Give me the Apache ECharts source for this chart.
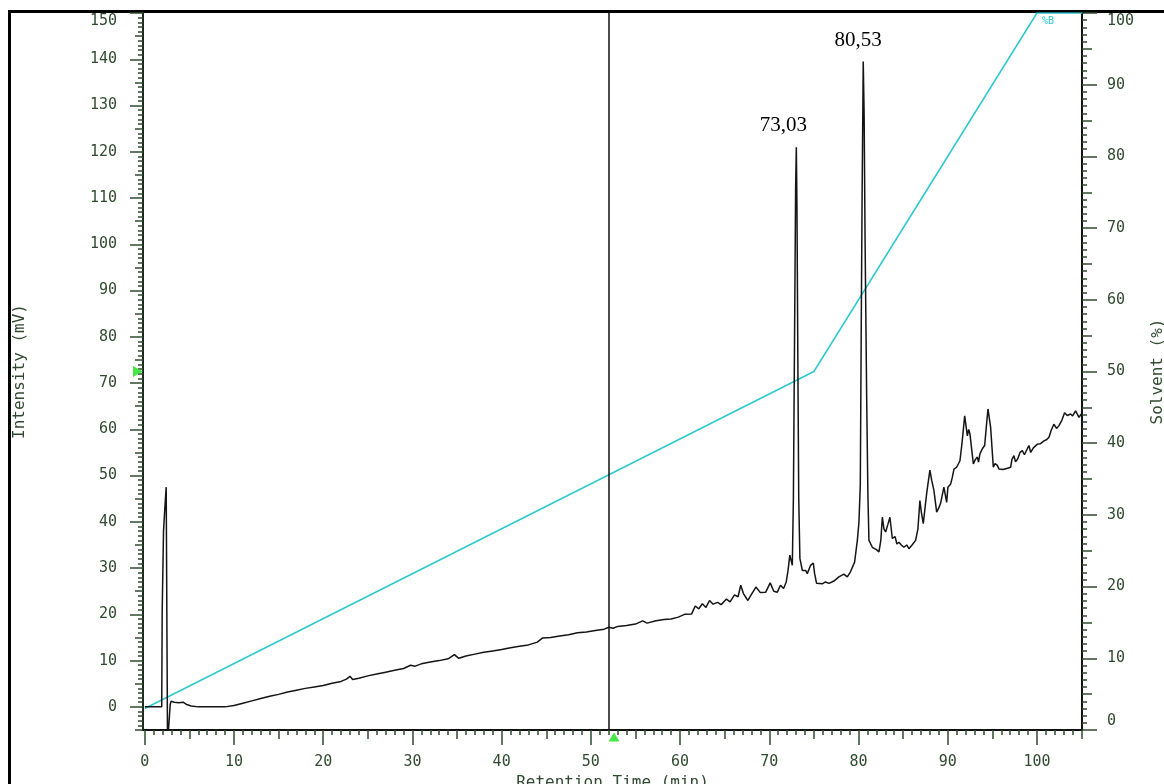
<!DOCTYPE html>
<html>
<head>
<meta charset="utf-8">
<script src="https://cdn.jsdelivr.net/npm/echarts@6/dist/echarts.min.js"></script>
<style>
  html, body { margin: 0; padding: 0; background: #fff; }
  #chart { width: 1164px; height: 784px; }
</style>
</head>
<body>
<div id="chart"></div>
<script>
// ---- Chromatogram trace: retention time (min) and detector signal (mV) ----
const traceTime = [
  0, 1.9, 1.95, 2.1, 2.25, 2.4, 2.5, 2.55, 2.75, 2.85, 2.95, 3.3, 3.8, 4.0, 4.3, 4.7, 5.2, 6, 9,
  10, 11, 12, 13, 14, 15, 16, 17, 18, 19, 20, 21, 22, 22.6, 23.0, 23.3, 24, 25, 26, 27, 28, 29,
  29.8, 30.3, 31, 32, 33, 34, 34.7, 35.2, 36, 37, 38, 39, 40, 41, 42, 43, 44, 44.6, 45.5, 46.5,
  47.5, 48.5, 49.5, 50.5, 51.5, 52, 52.5, 53, 54, 55, 55.8, 56.3, 57.3, 58.2, 59, 59.8, 60.5,
  61.3, 61.7, 62.1, 62.5, 62.9, 63.3, 63.7, 64.2, 64.6, 65.2, 65.6, 66.1, 66.5, 66.8, 67.1,
  67.6, 68.0, 68.5, 69.0, 69.6, 70.1, 70.5, 70.9, 71.25, 71.6, 71.9, 72.1, 72.3, 72.58, 72.7,
  72.85, 72.95, 73.03, 73.1, 73.2, 73.3, 73.43, 73.7, 74.07, 74.26, 74.63, 74.93, 75.08, 75.3,
  75.94, 76.3, 76.7, 77.24, 77.8, 78.36, 78.74, 79.1, 79.56, 79.87, 80.05, 80.2, 80.3, 80.4,
  80.53, 80.63, 80.74, 80.91, 81.05, 81.17, 81.55, 82.0, 82.29, 82.5, 82.67, 82.85, 83.04, 83.3,
  83.52, 83.79, 84.1, 84.3, 84.53, 84.8, 85.09, 85.4, 85.65, 86.0, 86.4, 86.66, 86.88, 87.05,
  87.26, 87.63, 88.0, 88.2, 88.45, 88.76, 89.0, 89.2, 89.57, 89.88, 90.02, 90.33, 90.5, 90.7,
  91.0, 91.37, 91.6, 91.9, 92.2, 92.35, 92.49, 92.87, 93.1, 93.32, 93.45, 93.61, 93.88, 94.14,
  94.3, 94.51, 94.81, 95.11, 95.3, 95.56, 95.75, 95.93, 96.2, 96.38, 96.7, 97.05, 97.2, 97.42,
  97.6, 97.84, 98.1, 98.36, 98.6, 98.92, 99.1, 99.3, 99.6, 100.05, 100.4, 100.79, 101.1,
  101.35, 101.6, 101.9, 102.2, 102.47, 102.8, 103.1, 103.4, 103.77, 104.0, 104.33, 104.71, 105.09
];
const traceSignal = [
  0, 0, 20.5, 38, 43, 47.5, 10, -8, -8, 0.5, 1.2, 1.0, 0.9, 0.7, 1.0, 0.5, 0.2, 0, 0,
  0.3, 0.8, 1.3, 1.8, 2.3, 2.7, 3.2, 3.6, 4.0, 4.3, 4.6, 5.1, 5.5, 6.0, 6.6, 5.9, 6.2, 6.7, 7.1, 7.5, 7.9, 8.3,
  9.0, 8.8, 9.3, 9.7, 10.0, 10.4, 11.3, 10.5, 11.0, 11.4, 11.8, 12.1, 12.4, 12.8, 13.1, 13.4, 14.0, 14.9, 15.0, 15.3,
  15.6, 16.0, 16.2, 16.5, 16.8, 17.2, 17.0, 17.4, 17.6, 17.9, 18.6, 18.1, 18.6, 18.9, 19.0, 19.4, 20.0,
  20.1, 21.8, 21.2, 22.3, 21.5, 23.0, 22.2, 22.6, 22.1, 23.3, 22.7, 24.2, 23.8, 26.3, 24.5,
  23.0, 24.3, 25.9, 24.7, 24.8, 26.8, 25.0, 24.8, 26.3, 25.6, 27.0, 29.5, 32.8, 30.6, 45,
  85, 112, 121, 108, 75, 45, 32.1, 29.5, 29.5, 28.8, 30.6, 31.1, 28.8, 26.7,
  26.6, 27.0, 26.7, 27.2, 28.1, 28.7, 28.1, 29.2, 31.3, 36.0, 40, 48, 80, 110,
  139.5, 128, 100, 67.7, 46, 36, 34.5, 34.0, 33.5, 36, 41, 38.5, 37.8, 39.5,
  41, 36.4, 36.8, 35.2, 35.6, 35.0, 34.5, 35.0, 34.2, 35.0, 36, 38.5, 44.6, 42,
  39.6, 46, 51.2, 49, 46.8, 42.1, 43.0, 44, 47.5, 44.2, 47.5, 48.2, 49.5, 51.4,
  51.8, 53.2, 57, 62.9, 58.6, 60, 59, 52.5, 53.5, 54, 52.9, 54.7, 55.8, 56.5,
  60, 64.4, 60.4, 51.8, 52.6, 52.2, 51.4, 51.8, 51.3, 51.1, 51.6, 51.8, 53.5, 54.3,
  53.0, 53.6, 55.0, 55.4, 54.5, 55.8, 56.5, 55, 56.0, 56.8, 56.9, 57.5, 57.8,
  58.3, 59.8, 61.1, 60.2, 60.8, 62.0, 63.6, 63.0, 63.3, 62.9, 64, 62.6, 63.6
];

// ---- Solvent gradient (%B) ----
const gradientTime = [0, 75, 100, 105.05];
const solventB = [3, 50, 100, 100];

// ---- Annotated peaks ----
const peakTimes = [73.03, 80.53];
const peakHeights = [121, 139.5];
const peakLabels = ['73,03', '80,53'];

// ---- Cursor and markers ----
const cursorTime = 52.0;
const markerTime = 52.6;
const markerSolvent = 50;

// ---- Axis ranges and tick labels ----
const timeRange = [-0.2, 105.05];
const intensityRange = [-5, 150];
const solventRange = [0, 100];
const timeTicks = [0, 10, 20, 30, 40, 50, 60, 70, 80, 90, 100];
const intensityTicks = [0, 10, 20, 30, 40, 50, 60, 70, 80, 90, 100, 110, 120, 130, 140, 150];
const solventTicks = [0, 10, 20, 30, 40, 50, 60, 70, 80, 90, 100];

// ---- Styling ----
const AXIS_GREEN = '#2f4a2f';
const MONO = '"DejaVu Sans Mono", "Liberation Mono", monospace';
const TRACE_BLACK = '#141414';
const GRADIENT_CYAN = '#2cc8d0';
const MARKER_GREEN = '#18e018';

// tick positions between two values at a fixed step (axis decoration only)
function stepValues(lo, hi, step) {
  const out = [];
  for (let v = lo; v <= hi + 1e-9; v += step) out.push(Math.round(v * 1000) / 1000);
  return out;
}

const labelFont = { color: AXIS_GREEN, fontFamily: MONO, fontSize: 15 };
const nameFont = { color: AXIS_GREEN, fontFamily: MONO, fontSize: 16 };

// an extra axis used only to draw a row of ticks of a given length
function tickOnlyAxis(range, position, values, length) {
  return {
    type: 'value', min: range[0], max: range[1], position: position,
    axisLine: { show: false, onZero: false },
    axisTick: { show: true, customValues: values, length: length,
      lineStyle: { color: AXIS_GREEN, width: 1.5 } },
    axisLabel: { show: false },
    splitLine: { show: false },
    silent: true
  };
}

const traceData = traceTime.map((t, i) => [t, traceSignal[i]]);
const gradientData = gradientTime.map((t, i) => [t, solventB[i]]);
const peakLabelOffsets = [[-13, -22], [-5, -21]];

const option = {
  animation: false,
  backgroundColor: '#ffffff',
  grid: { left: 143, right: 82, top: 13, bottom: 54, containLabel: false, outerBoundsMode: 'none' },
  xAxis: [
    {
      type: 'value', min: timeRange[0], max: timeRange[1], position: 'bottom',
      axisLine: { show: true, onZero: false, lineStyle: { color: '#111', width: 2 } },
      axisTick: { show: true, customValues: timeTicks, length: 15,
        lineStyle: { color: AXIS_GREEN, width: 1.5 } },
      axisLabel: Object.assign({ customValues: timeTicks, margin: 25 }, labelFont),
      splitLine: { show: false },
      name: 'Retention Time (min)', nameLocation: 'middle', nameGap: 42,
      nameTextStyle: nameFont
    },
    tickOnlyAxis(timeRange, 'bottom', stepValues(5, 105, 10), 9),
    tickOnlyAxis(timeRange, 'bottom', stepValues(0, 105, 1), 5)
  ],
  yAxis: [
    {
      type: 'value', min: intensityRange[0], max: intensityRange[1], position: 'left',
      axisLine: { show: true, onZero: false, lineStyle: { color: '#1c2a1c', width: 2 } },
      axisTick: { show: true, customValues: intensityTicks, length: 13,
        lineStyle: { color: AXIS_GREEN, width: 1.5 } },
      axisLabel: Object.assign({
        customValues: intensityTicks, margin: 26,
        formatter: v => (v === intensityRange[1] ? '{top|' + v + '}' : String(v)),
        rich: { top: { padding: [16, 0, 0, 0], color: AXIS_GREEN, fontFamily: MONO, fontSize: 15 } }
      }, labelFont),
      splitLine: { show: false },
      name: 'Intensity (mV)', nameLocation: 'middle', nameRotate: 90, nameGap: 115,
      nameTextStyle: nameFont
    },
    tickOnlyAxis(intensityRange, 'left', stepValues(-5, 145, 10), 8),
    tickOnlyAxis(intensityRange, 'left', stepValues(-5, 150, 1), 5),
    {
      type: 'value', min: solventRange[0], max: solventRange[1], position: 'right',
      axisLine: { show: true, onZero: false, lineStyle: { color: '#111', width: 2 } },
      axisTick: { show: true, customValues: solventTicks, length: 15,
        lineStyle: { color: AXIS_GREEN, width: 1.5 } },
      axisLabel: Object.assign({
        customValues: solventTicks, margin: 25,
        formatter: v => (v === solventRange[1] ? '{top|' + v + '}'
          : v === solventRange[0] ? '{bottom|' + v + '}' : String(v)),
        rich: {
          top: { padding: [16, 0, 0, 0], color: AXIS_GREEN, fontFamily: MONO, fontSize: 15 },
          bottom: { padding: [0, 0, 18, 0], color: AXIS_GREEN, fontFamily: MONO, fontSize: 15 }
        }
      }, labelFont),
      splitLine: { show: false },
      name: 'Solvent (%)', nameLocation: 'middle', nameRotate: 90, nameGap: 68,
      nameTextStyle: nameFont
    },
    tickOnlyAxis(solventRange, 'right', stepValues(5, 95, 10), 10),
    tickOnlyAxis(solventRange, 'right', stepValues(0, 100, 1), 5)
  ],
  series: [
    {
      name: 'Gradient',
      type: 'line', xAxisIndex: 0, yAxisIndex: 3,
      data: gradientData, showSymbol: false, silent: true,
      lineStyle: { color: GRADIENT_CYAN, width: 1.5 },
      markPoint: {
        symbol: 'circle', symbolSize: 1, silent: true,
        itemStyle: { color: 'rgba(0,0,0,0)' },
        label: { show: true, position: 'inside', offset: [11, 8], formatter: '%B',
          color: GRADIENT_CYAN, fontFamily: MONO, fontSize: 10 },
        data: [{ coord: [gradientTime[2], solventB[2]] }]
      }
    },
    {
      name: 'Signal',
      type: 'line', xAxisIndex: 0, yAxisIndex: 0,
      data: traceData, showSymbol: false, silent: true,
      lineStyle: { color: TRACE_BLACK, width: 1.5 },
      markLine: {
        silent: true, symbol: ['none', 'none'],
        label: { show: false },
        lineStyle: { color: '#111', type: 'solid', width: 1.5 },
        data: [{ xAxis: cursorTime }]
      },
      markPoint: {
        symbol: 'circle', symbolSize: 1, silent: true,
        itemStyle: { color: 'rgba(0,0,0,0)' },
        data: peakTimes.map((t, i) => ({
          coord: [t, peakHeights[i]],
          label: { show: true, position: 'inside', offset: peakLabelOffsets[i],
            formatter: peakLabels[i], color: '#000',
            fontFamily: '"Liberation Serif", "Times New Roman", serif', fontSize: 21 }
        }))
      }
    },
    {
      name: 'Markers',
      type: 'scatter', xAxisIndex: 0, yAxisIndex: 3,
      clip: false, silent: true,
      symbol: 'triangle',
      itemStyle: { color: MARKER_GREEN },
      data: [
        { value: [markerTime, solventRange[0]], symbolSize: [11, 9], symbolOffset: [0, 7] },
        { value: [timeRange[0], markerSolvent], symbolSize: [11, 10], symbolRotate: -90, symbolOffset: [-5, 0] }
      ]
    }
  ],
  graphic: [
    { type: 'rect', left: 8, top: 10, shape: { width: 3, height: 774 }, style: { fill: '#000' }, silent: true },
    { type: 'rect', left: 8, top: 10, shape: { width: 1156, height: 3 }, style: { fill: '#000' }, silent: true }
  ]
};

const chart = echarts.init(document.getElementById('chart'), null, { renderer: 'canvas' });
chart.setOption(option);
</script>
</body>
</html>
